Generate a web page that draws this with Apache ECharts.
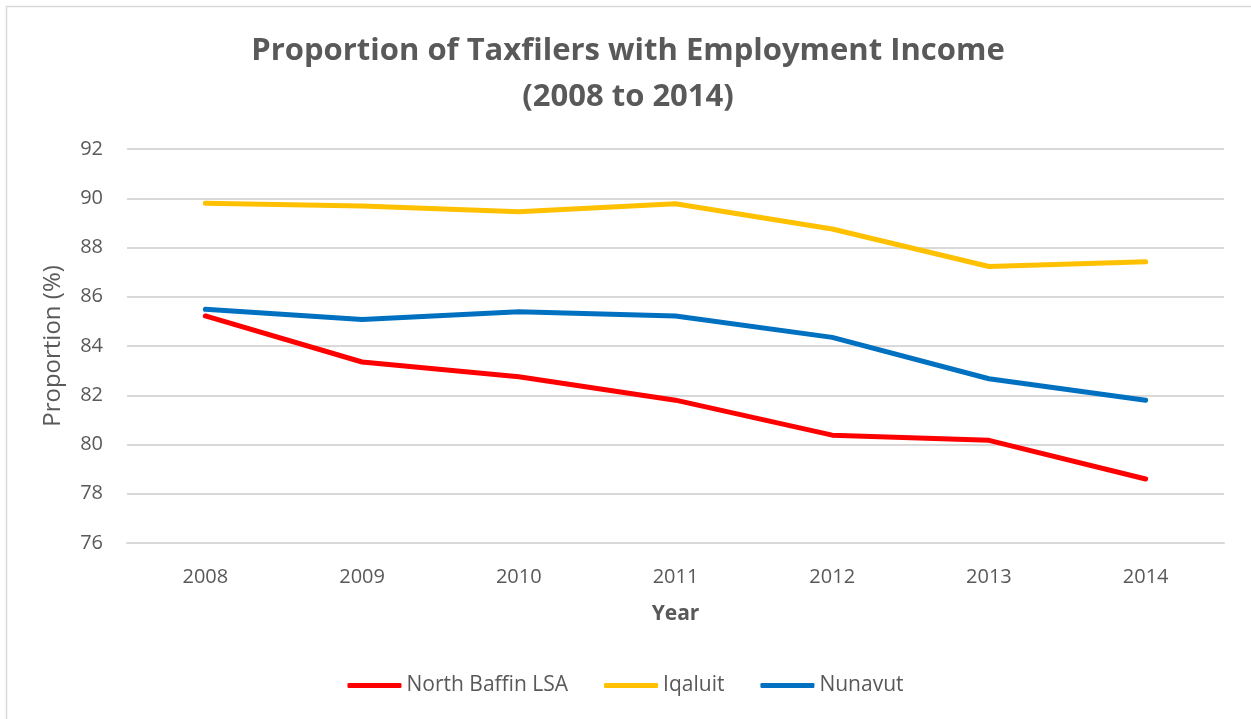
<!DOCTYPE html>
<html>
<head>
<meta charset="utf-8">
<script src="https://cdn.jsdelivr.net/npm/echarts@6/dist/echarts.min.js"></script>
<style>
  html, body { margin: 0; padding: 0; background: #fff; }
  #chart { width: 1251px; height: 719px; }
</style>
</head>
<body>
<div id="chart"></div>
<script>
// Tax filer employment-income shares, 2008–2014
const years = ['2008', '2009', '2010', '2011', '2012', '2013', '2014'];
const northBaffin = [85.22, 83.35, 82.75, 81.80, 80.38, 80.17, 78.60];
const iqaluit     = [89.80, 89.69, 89.45, 89.78, 88.75, 87.23, 87.42];
const nunavut     = [85.49, 85.08, 85.39, 85.22, 84.35, 82.67, 81.80];
const titleLines  = ['Proportion of Taxfilers with Employment Income', '(2008 to 2014)'];

const textGray = '#595959';
const gridGray = '#D9D9D9';
const font = '"Open Sans", "Noto Sans", sans-serif';

const chart = echarts.init(document.getElementById('chart'));

function lineSeries(name, data, color) {
  return {
    name, type: 'line', data,
    showSymbol: false, symbol: 'none',
    lineStyle: { color, width: 5, cap: 'round', join: 'round' },
    itemStyle: { color },
    emphasis: { disabled: true },
    animation: false
  };
}

chart.setOption({
  animation: false,
  backgroundColor: '#fff',
  textStyle: { fontFamily: font },
  graphic: [
    {
      type: 'rect',
      shape: { x: 6.5, y: 6.5, width: 1400, height: 900 },
      style: { fill: 'none', stroke: gridGray, lineWidth: 1.5 },
      silent: true
    },
    {
      type: 'text', x: 628, y: 51, silent: true,
      style: {
        text: titleLines[0], fill: textGray, font: 'bold 31px ' + font,
        textAlign: 'center', textVerticalAlign: 'middle'
      }
    },
    {
      type: 'text', x: 628, y: 97, silent: true,
      style: {
        text: titleLines[1], fill: textGray, font: 'bold 31px ' + font,
        textAlign: 'center', textVerticalAlign: 'middle'
      }
    }
  ],
  legend: {
    bottom: 18,
    left: 'center',
    icon: 'roundRect',
    itemWidth: 54,
    itemHeight: 5,
    itemGap: 36,
    textStyle: { color: textGray, fontSize: 21, fontFamily: font, padding: [0, 0, 0, 0] },
    data: ['North Baffin LSA', 'Iqaluit', 'Nunavut']
  },
  grid: { left: 127, right: 27, top: 149, bottom: 176, containLabel: false },
  xAxis: {
    type: 'category',
    data: years,
    boundaryGap: true,
    name: 'Year',
    nameLocation: 'middle',
    nameGap: 61,
    nameTextStyle: { color: textGray, fontSize: 21, fontWeight: 'bold', fontFamily: font },
    axisLine: { show: true, lineStyle: { color: gridGray, width: 2 } },
    axisTick: { show: false },
    axisLabel: { color: textGray, fontSize: 20, margin: 24, fontFamily: font }
  },
  yAxis: {
    type: 'value',
    min: 76, max: 92, interval: 2,
    name: 'Proportion (%)',
    nameLocation: 'middle',
    nameGap: 62,
    nameTextStyle: { color: textGray, fontSize: 24, fontFamily: font },
    axisLine: { show: false },
    axisTick: { show: false },
    axisLabel: { color: textGray, fontSize: 20, margin: 24, fontFamily: font },
    splitLine: { lineStyle: { color: gridGray, width: 2 } }
  },
  series: [
    lineSeries('North Baffin LSA', northBaffin, '#FF0000'),
    lineSeries('Iqaluit', iqaluit, '#FFC000'),
    lineSeries('Nunavut', nunavut, '#0070C0')
  ]
});
</script>
</body>
</html>
